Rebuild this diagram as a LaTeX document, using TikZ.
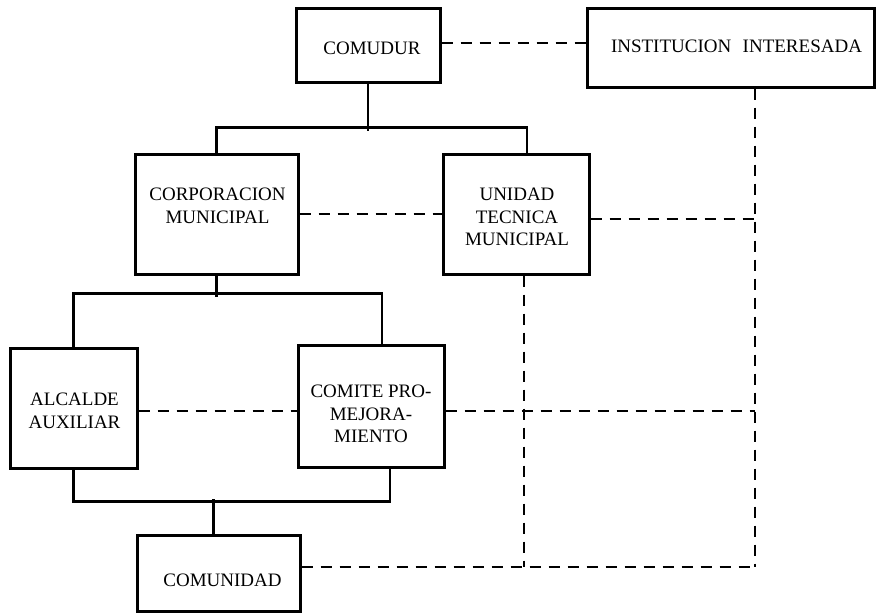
\documentclass[tikz,border=0pt]{standalone}
\usepackage{fontspec}
\setmainfont{Liberation Serif}
\begin{document}
\begin{tikzpicture}[x=1pt,y=-1pt]
\tikzset{
  box/.style={draw, line width=3pt, inner sep=0pt},
  lbl/.style={align=center, font=\fontsize{19}{22.5}\selectfont, inner sep=0pt},
  solidlink/.style={line width=2.8pt},
  dashlink/.style={line width=2.8pt, dash pattern=on 11pt off 8pt},
}
\useasboundingbox (0,0) rectangle (876,613);

% boxes
\node[box, minimum width=144pt, minimum height=74pt,
  label={[lbl,xshift=4pt,yshift=-3pt]center:COMUDUR}] (comudur) at (368,45) {};
\node[box, minimum width=287pt, minimum height=79pt,
  label={[lbl,xshift=6pt,yshift=1pt]center:INSTITUCION\hspace{0.35em} INTERESADA}] (inst) at (730.5,47.5) {};
\node[box, minimum width=163pt, minimum height=120pt,
  label={[lbl,xshift=1pt,yshift=8pt]center:CORPORACION\\MUNICIPAL}] (corp) at (216.5,214) {};
\node[box, minimum width=146pt, minimum height=120pt,
  label={[lbl,xshift=1pt,yshift=-3pt]center:UNIDAD\\TECNICA\\MUNICIPAL}] (unidad) at (516,214) {};
\node[box, minimum width=127pt, minimum height=120pt,
  label={[lbl,xshift=1pt,yshift=-3pt]center:ALCALDE\\AUXILIAR}] (alcalde) at (73.5,408) {};
\node[box, minimum width=146pt, minimum height=122pt,
  label={[lbl,yshift=-8pt]center:COMITE PRO-\\MEJORA-\\MIENTO}] (comite) at (371,406) {};
\node[box, minimum width=163pt, minimum height=76pt,
  label={[lbl,xshift=4pt,yshift=-7pt]center:COMUNIDAD}] (comunidad) at (218.5,573) {};

\coordinate (rc) at (755,567);

% solid hierarchy
\draw[solidlink] (comudur.south) -- ++(0,47);
\draw[solidlink] (corp.north) -- ++(0,-25) -| ([xshift=11pt]unidad.north);
\draw[solidlink] (corp.south) -- ++(0,21);
\draw[solidlink] (alcalde.north) -- ++(0,-53) -| ([xshift=11pt]comite.north);
\draw[solidlink] (alcalde.south) -- ++(0,32) -| ([xshift=19pt]comite.south);
\draw[solidlink] ([xshift=-5pt]comunidad.north) -- ++(0,-35);

% dashed relations
\draw[dashlink] ([yshift=2pt]comudur.east) -- ([yshift=2pt]comudur.east -| inst.west);
\draw[dashlink] (corp.east) -- (unidad.west);
\draw[dashlink] (inst.south -| rc) -- (rc);
\draw[dashlink] ([yshift=-5pt]unidad.east) -- ([yshift=-5pt]unidad.east -| rc);
\draw[dashlink] ([yshift=-3pt]alcalde.east) -- ([yshift=-3pt]alcalde.east -| comite.west);
\draw[dashlink] ([yshift=-5pt]comite.east) -- ([yshift=-5pt]comite.east -| rc);
\draw[dashlink] ([xshift=8pt]unidad.south) -- ([xshift=8pt]unidad.south |- rc);
\draw[dashlink] (comunidad.east |- rc) -- (rc);
\end{tikzpicture}
\end{document}
